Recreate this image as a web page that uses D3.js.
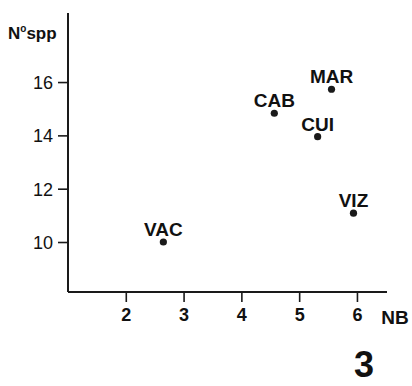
<!DOCTYPE html>
<html>
<head>
<meta charset="utf-8">
<script src="https://cdn.jsdelivr.net/npm/d3@7"></script>
<style>
  html, body { margin: 0; padding: 0; background: #fff; }
  svg { display: block; }
  text { font-family: "Liberation Sans", Arial, sans-serif; fill: #111; }
</style>
</head>
<body>
<script>
// ---- data ----
const sites = ["VAC", "CAB", "CUI", "MAR", "VIZ"];
const nb    = [2.65, 4.57, 5.32, 5.56, 5.94];
const nspp  = [10.0, 14.83, 13.95, 15.73, 11.08];
const xTicks = [2, 3, 4, 5, 6];
const yTicks = [10, 12, 14, 16];
const xLabel = "NB";
const yLabel = "spp";
const figNumber = "3";

const W = 412, H = 386;
const margin = { left: 68, right: 25, top: 13, bottom: 94 };

const svg = d3.select("body").append("svg").attr("width", W).attr("height", H);

const x = d3.scaleLinear().domain([1.0, 6.52]).range([margin.left, W - margin.right]);
const y = d3.scaleLinear().domain([8.125, 18.59]).range([H - margin.bottom, margin.top]);

const ink = "#1a1a1a";

// axis lines
svg.append("line")
  .attr("x1", x.range()[0]).attr("x2", x.range()[0])
  .attr("y1", y.range()[0]).attr("y2", y.range()[1])
  .attr("stroke", ink).attr("stroke-width", 2);
svg.append("line")
  .attr("x1", x.range()[0]).attr("x2", x.range()[1])
  .attr("y1", y.range()[0]).attr("y2", y.range()[0])
  .attr("stroke", ink).attr("stroke-width", 2);

// y axis
const gy = svg.append("g")
  .attr("transform", `translate(${x.range()[0]},0)`)
  .call(d3.axisLeft(y).tickValues(yTicks).tickSize(10).tickPadding(5).tickFormat(d3.format("d")));
gy.select(".domain").remove();
gy.selectAll(".tick line").attr("stroke", ink).attr("stroke-width", 1.6);
gy.selectAll(".tick text")
  .attr("font-family", "Liberation Sans, Arial, sans-serif")
  .attr("font-size", 18).attr("fill", ink).attr("dy", "0.36em");

// x axis
const gx = svg.append("g")
  .attr("transform", `translate(0,${y.range()[0]})`)
  .call(d3.axisBottom(x).tickValues(xTicks).tickSize(10).tickPadding(6).tickFormat(d3.format("d")));
gx.select(".domain").remove();
gx.selectAll(".tick line").attr("stroke", ink).attr("stroke-width", 1.6);
gx.selectAll(".tick text")
  .attr("font-family", "Liberation Sans, Arial, sans-serif")
  .attr("font-size", 18).attr("font-weight", "bold").attr("fill", ink);

// x axis title
svg.append("text")
  .attr("x", 395).attr("y", 324)
  .attr("text-anchor", "middle")
  .attr("font-size", 19).attr("font-weight", "bold")
  .text(xLabel);

// y axis title "Nº spp"
const yt = svg.append("text")
  .attr("x", 8).attr("y", 39)
  .attr("font-size", 17).attr("font-weight", "bold");
yt.append("tspan").text("N");
yt.append("tspan").attr("font-size", 10).attr("dx", 0).attr("dy", -7).text("o");
yt.append("tspan").attr("dx", 0).attr("dy", 7).text(yLabel);

// points
const pts = sites.map((s, i) => ({ site: s, x: nb[i], y: nspp[i] }));
svg.selectAll("circle.pt").data(pts).enter().append("circle")
  .attr("class", "pt")
  .attr("cx", d => x(d.x)).attr("cy", d => y(d.y))
  .attr("r", 3.6).attr("fill", ink);

svg.selectAll("text.lbl").data(pts).enter().append("text")
  .attr("class", "lbl")
  .attr("x", d => x(d.x)).attr("y", d => y(d.y) - 6)
  .attr("text-anchor", "middle")
  .attr("font-size", 19).attr("font-weight", "bold")
  .text(d => d.site);

// figure number
svg.append("text")
  .attr("x", 364).attr("y", 377)
  .attr("text-anchor", "middle")
  .attr("font-size", 36).attr("font-weight", "bold")
  .text(figNumber);
</script>
</body>
</html>
